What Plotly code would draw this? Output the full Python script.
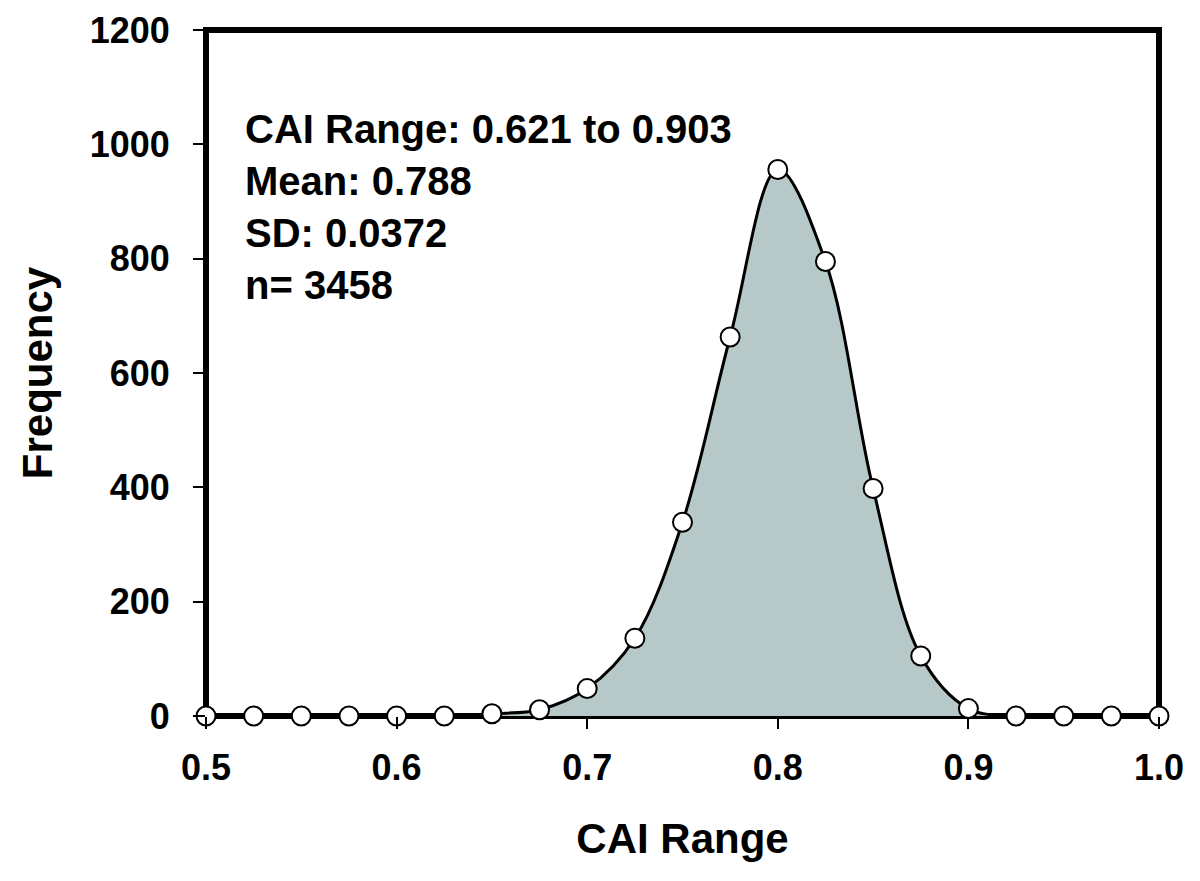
import plotly.graph_objects as go

cai = [0.5, 0.525, 0.55, 0.575, 0.6, 0.625, 0.65, 0.675, 0.7, 0.725, 0.75,
       0.775, 0.8, 0.825, 0.85, 0.875, 0.9, 0.925, 0.95, 0.975, 1.0]
freq = [0, 0, 0, 0, 0, 0, 4, 11, 48, 136, 339, 663, 956, 795, 398, 105, 13, 0, 0, 0, 0]

x_ticks = [0.5, 0.6, 0.7, 0.8, 0.9, 1.0]
x_tick_text = ["0.5", "0.6", "0.7", "0.8", "0.9", "1.0"]
y_ticks = [0, 200, 400, 600, 800, 1000, 1200]

stats_lines = ["CAI Range: 0.621 to 0.903", "Mean: 0.788", "SD: 0.0372", "n= 3458"]

FONT = "Liberation Sans, Arial, sans-serif"

fig = go.Figure()
fig.add_trace(go.Scatter(
    x=cai, y=freq, mode="lines",
    line=dict(color="black", width=3, shape="spline", smoothing=1.0),
    fill="tozeroy", fillcolor="#b6c8c8", hoverinfo="skip", showlegend=False,
    cliponaxis=False))
fig.add_trace(go.Scatter(
    x=cai, y=freq, mode="markers",
    marker=dict(size=19, color="white", line=dict(color="black", width=2)),
    showlegend=False, cliponaxis=False))

fig.add_annotation(
    x=0, y=1, xref="paper", yref="paper", xshift=37, yshift=-75,
    xanchor="left", yanchor="top", align="left", showarrow=False,
    text="<br>".join("<b>%s</b>" % s for s in stats_lines),
    font=dict(family=FONT, size=40, color="black"))

# frame box around the plotting area
fig.add_shape(type="rect", xref="paper", yref="paper", x0=0, x1=1, y0=0, y1=1,
              line=dict(color="black", width=6), layer="below")

axis_common = dict(
    showline=False, automargin=False,
    ticks="outside", ticklen=12, tickwidth=2, tickcolor="black",
    showgrid=False, zeroline=False,
    tickfont=dict(family=FONT, size=36, color="black"),
)

fig.update_xaxes(range=[0.5, 1.0], tickvals=x_ticks,
                 ticktext=["<b>%s</b>" % t for t in x_tick_text],
                 ticklabelstandoff=8,
                 title=dict(text="<b>CAI Range</b>",
                            font=dict(family=FONT, size=42, color="black"), standoff=36),
                 **axis_common)
fig.update_yaxes(range=[0, 1200], tickvals=y_ticks,
                 ticktext=["<b>%d</b>" % v for v in y_ticks],
                 ticklabelstandoff=16,
                 title=dict(text="<b>Frequency</b>",
                            font=dict(family=FONT, size=42, color="black"), standoff=24),
                 **axis_common)

fig.update_layout(
    width=1200, height=881,
    margin=dict(l=198, r=49, t=22, b=173),
    plot_bgcolor="white", paper_bgcolor="white",
)

fig.write_html("out.html")
